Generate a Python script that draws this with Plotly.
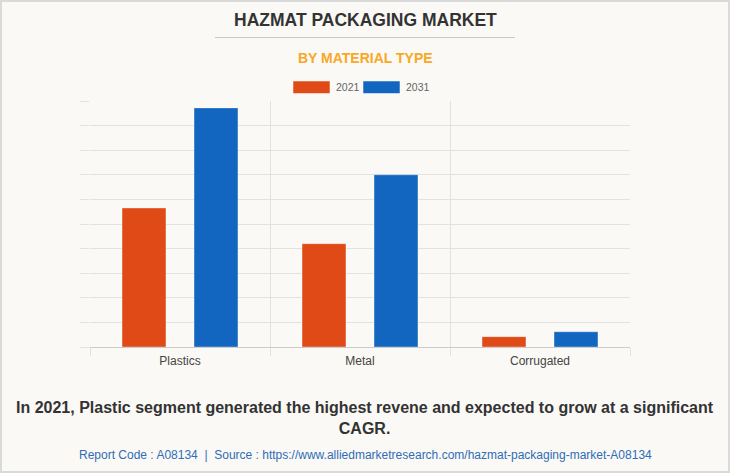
import plotly.graph_objects as go

categories = ["Plastics", "Metal", "Corrugated"]
series_names = ["2021", "2031"]
values_2021 = [5.65, 4.2, 0.42]
values_2031 = [9.72, 7.0, 0.62]
colors = ["#E04A16", "#1366C0"]

title_text = "HAZMAT PACKAGING MARKET"
subtitle_text = "BY MATERIAL TYPE"
footer_text = ("In 2021, Plastic segment generated the highest revene and expected to grow at a significant"
               "<br>CAGR.")
source_text = ("Report Code : A08134  |  Source : https://www.alliedmarketresearch.com/"
               "hazmat-packaging-market-A08134")

W, H = 730, 473
L, R, T, B = 90, 100, 101, 126
PW, PH = W - L - R, H - T - B

def px(x):
    return (x - L) / PW

def py(y):
    return (H - B - y) / PH

bg = "#FAF9F5"
grid = "#E3E2DE"

fig = go.Figure()
for name, vals, col in zip(series_names, [values_2021, values_2031], colors):
    fig.add_trace(go.Bar(x=categories, y=vals, name=name, marker=dict(color=col, line=dict(width=1, color="rgba(255,255,255,0.35)")),
                         showlegend=False, hoverinfo="x+y+name"))

shapes = []
annotations = []

# border
shapes.append(dict(type="rect", xref="paper", yref="paper", x0=px(1), x1=px(729), y0=py(1), y1=py(472),
                   line=dict(color="#DADADA", width=2), fillcolor="rgba(0,0,0,0)", layer="below"))
# title underline
shapes.append(dict(type="line", xref="paper", yref="paper", x0=px(215), x1=px(515), y0=py(37.5), y1=py(37.5),
                   line=dict(color="#C8C8C8", width=1)))
annotations.append(dict(text=f"<b>{title_text}</b>", xref="paper", yref="paper", x=px(365), y=py(20),
                        xanchor="center", yanchor="middle", showarrow=False,
                        font=dict(family="Liberation Sans, Arial", size=17.5, color="#333333")))
annotations.append(dict(text=f"<b>{subtitle_text}</b>", xref="paper", yref="paper", x=px(365), y=py(58),
                        xanchor="center", yanchor="middle", showarrow=False,
                        font=dict(family="Liberation Sans, Arial", size=14, color="#F9A825")))

# legend
leg = [(293, 330, 334), (363, 400, 404)]
for (x0, x1, tx), name, col in zip(leg, series_names, colors):
    shapes.append(dict(type="rect", xref="paper", yref="paper", x0=px(x0), x1=px(x1), y0=py(93.5), y1=py(81),
                       fillcolor=col, line=dict(color="rgba(255,255,255,0.5)", width=1)))
    annotations.append(dict(text=name, xref="paper", yref="paper", x=px(tx), y=py(87.5),
                            xanchor="left", yanchor="middle", showarrow=False,
                            font=dict(family="Liberation Sans, Arial", size=10.5, color="#666666")))

annotations.append(dict(text=f"<b>{footer_text}</b>", xref="paper", yref="paper", x=px(365), y=py(418),
                        xanchor="center", yanchor="middle", showarrow=False, align="center",
                        font=dict(family="Liberation Sans, Arial", size=16, color="#333333")))
annotations.append(dict(text=source_text, xref="paper", yref="paper", x=px(365.5), y=py(455),
                        xanchor="center", yanchor="middle", showarrow=False,
                        font=dict(family="Liberation Sans Narrow, Liberation Sans, Arial", size=12, color="#2F6DB5")))

fig.update_layout(
    width=W, height=H,
    margin=dict(l=L, r=R, t=T, b=B),
    paper_bgcolor=bg, plot_bgcolor=bg,
    barmode="group", bargap=0.2, bargroupgap=0.39,
    shapes=shapes, annotations=annotations,
    xaxis=dict(tickson="boundaries", showgrid=True, gridcolor=grid, gridwidth=1,
               ticks="outside", ticklen=8, tickcolor=grid, ticklabelstandoff=3,
               showline=True, linecolor="#CCCCCC", linewidth=1,
               tickfont=dict(family="Liberation Sans, Arial", size=12, color="#444444"),
               fixedrange=True),
    yaxis=dict(range=[0, 10], dtick=1, showgrid=True, gridcolor=grid, gridwidth=1,
               showticklabels=False, ticks="outside", ticklen=9, tickcolor=grid,
               zeroline=False, showline=False, fixedrange=True),
    font=dict(family="Liberation Sans, Arial"),
)

fig.write_html("out.html", config={"displayModeBar": False},
               post_script="document.body.style.margin='0';document.body.style.background='#FAF9F5';")
